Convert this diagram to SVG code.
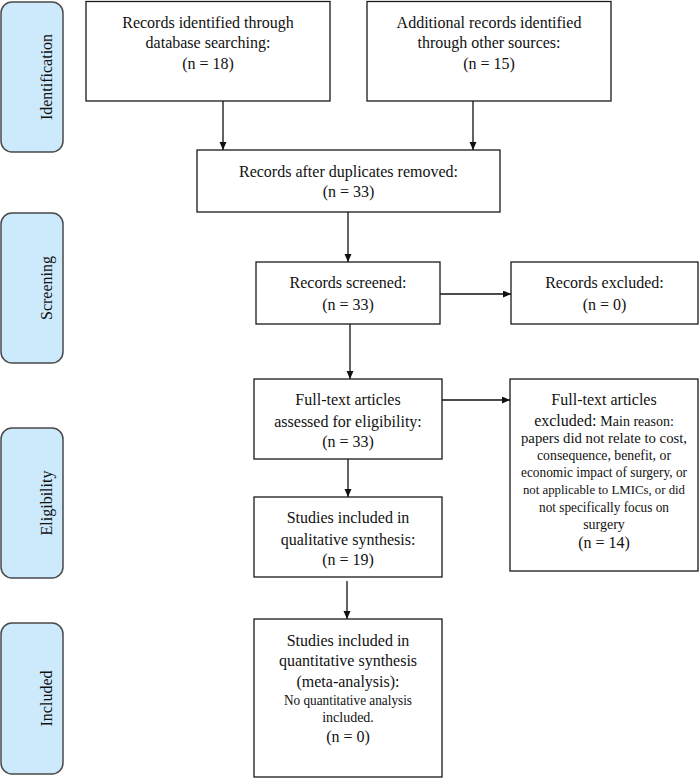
<svg xmlns="http://www.w3.org/2000/svg" width="699" height="779" viewBox="0 0 699 779">
<style>
.box{fill:#fff;stroke:#1a1a1a;stroke-width:1.3}
.phase{fill:#cdeafc;stroke:#4a4a4a;stroke-width:1.5}
.t{font-family:"Liberation Serif","Times New Roman",serif;font-size:16px;fill:#111;text-anchor:middle}
.s{font-size:14px}
.ph{font-family:"Liberation Serif","Times New Roman",serif;font-size:16px;fill:#111;text-anchor:middle}
.c{stroke:#111;stroke-width:1.3;fill:none;marker-end:url(#ah)}
</style>
<defs>
<marker id="ah" markerUnits="userSpaceOnUse" markerWidth="9" markerHeight="8" refX="8" refY="3.5" orient="auto">
<path d="M0,0 L8,3.5 L0,7 z" fill="#111"/>
</marker>
</defs>
<rect width="699" height="779" fill="#fff"/>
<g id="phase-identification">
<rect class="phase" x="1" y="2" width="62" height="150" rx="11"/>
<text class="ph" transform="translate(51.5,77) rotate(-90)">Identification</text>
</g>
<g id="phase-screening">
<rect class="phase" x="1" y="213" width="62" height="150" rx="11"/>
<text class="ph" transform="translate(51.5,288) rotate(-90)">Screening</text>
</g>
<g id="phase-eligibility">
<rect class="phase" x="1" y="428" width="62" height="150" rx="11"/>
<text class="ph" transform="translate(51.5,503) rotate(-90)">Eligibility</text>
</g>
<g id="phase-included">
<rect class="phase" x="1" y="623" width="62" height="151" rx="11"/>
<text class="ph" transform="translate(51.5,698.5) rotate(-90)">Included</text>
</g>
<g id="connectors">
<line class="c" x1="223" y1="101" x2="223" y2="150"/>
<line class="c" x1="473" y1="101" x2="473" y2="150"/>
<line class="c" x1="348" y1="212" x2="348" y2="262"/>
<line class="c" x1="440" y1="294" x2="511" y2="294"/>
<line class="c" x1="350" y1="324" x2="350" y2="379"/>
<line class="c" x1="442" y1="400" x2="510" y2="400"/>
<line class="c" x1="348" y1="459" x2="348" y2="497"/>
<line class="c" x1="347" y1="581" x2="347" y2="619"/>
</g>
<g id="box-database">
<rect class="box" x="86" y="1.5" width="244" height="99.5"/>
<text class="t" x="208" y="27.5">Records identified through</text>
<text class="t" x="208" y="48">database searching:</text>
<text class="t" x="208" y="68.5">(n = 18)</text>
</g>
<g id="box-other">
<rect class="box" x="367" y="1.5" width="244" height="99.5"/>
<text class="t" x="489" y="27.5">Additional records identified</text>
<text class="t" x="489" y="48">through other sources:</text>
<text class="t" x="489" y="68.5">(n = 15)</text>
</g>
<g id="box-duplicates">
<rect class="box" x="197" y="150" width="303" height="62"/>
<text class="t" x="348.5" y="176.5">Records after duplicates removed:</text>
<text class="t" x="348.5" y="197">(n = 33)</text>
</g>
<g id="box-screened">
<rect class="box" x="256" y="262" width="184" height="62"/>
<text class="t" x="348" y="288">Records screened:</text>
<text class="t" x="348" y="310">(n = 33)</text>
</g>
<g id="box-excluded">
<rect class="box" x="511" y="262" width="187" height="62"/>
<text class="t" x="604.5" y="288">Records excluded:</text>
<text class="t" x="604.5" y="310">(n = 0)</text>
</g>
<g id="box-fulltext">
<rect class="box" x="254" y="379" width="188" height="80"/>
<text class="t" x="348" y="405">Full-text articles</text>
<text class="t" x="348" y="427">assessed for eligibility:</text>
<text class="t" x="348" y="447">(n = 33)</text>
</g>
<g id="box-fulltext-excluded">
<rect class="box" x="510" y="379" width="188" height="192"/>
<text class="t" x="604" y="405">Full-text articles</text>
<text class="t" x="604" y="426">excluded: <tspan class="s">Main reason:</tspan></text>
<text class="t s" x="604" y="443" textLength="166" lengthAdjust="spacingAndGlyphs">papers did not relate to cost,</text>
<text class="t s" x="604" y="460" textLength="134" lengthAdjust="spacingAndGlyphs">consequence, benefit, or</text>
<text class="t s" x="604" y="477" textLength="166" lengthAdjust="spacingAndGlyphs">economic impact of surgery, or</text>
<text class="t" x="604" y="494" style="font-size:12.8px">not applicable to LMICs, or did</text>
<text class="t s" x="604" y="511.5" textLength="130" lengthAdjust="spacingAndGlyphs">not specifically focus on</text>
<text class="t s" x="604" y="528.5">surgery</text>
<text class="t" x="604" y="548">(n = 14)</text>
</g>
<g id="box-qualitative">
<rect class="box" x="254" y="497" width="188" height="80"/>
<text class="t" x="348" y="523">Studies included in</text>
<text class="t" x="348" y="545">qualitative synthesis:</text>
<text class="t" x="348" y="565">(n = 19)</text>
</g>
<g id="box-quantitative">
<rect class="box" x="254" y="619" width="188" height="158"/>
<text class="t" x="348" y="646">Studies included in</text>
<text class="t" x="348" y="666">quantitative synthesis</text>
<text class="t" x="348" y="687">(meta-analysis):</text>
<text class="t s" x="348" y="705" textLength="128" lengthAdjust="spacingAndGlyphs">No quantitative analysis</text>
<text class="t s" x="348" y="722">included.</text>
<text class="t" x="348" y="742">(n = 0)</text>
</g>
</svg>
